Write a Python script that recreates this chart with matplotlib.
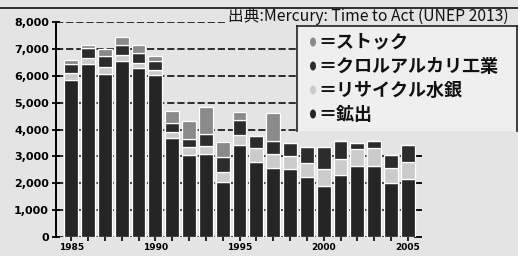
import matplotlib as mpl
import matplotlib.pyplot as plt
from matplotlib.lines import Line2D
from matplotlib.patches import Ellipse, Rectangle

mpl.rcParams.update(
    {
        "font.family": ["DejaVu Sans"],
        "axes.linewidth": 1.4,
    }
)
JP = ["Noto Sans CJK JP", "DejaVu Sans"]

YEARS = list(range(1985, 2006))
# stacked bottom -> top
MINING = [5850, 6450, 6060, 6560, 6300, 6020, 3670, 3050, 3100, 2050, 3420,
          2800, 2560, 2520, 2220, 1900, 2300, 2640, 2640, 2000, 2150]
RECYCLE = [250, 200, 260, 220, 180, 200, 230, 300, 300, 380, 380,
           500, 530, 490, 545, 640, 620, 620, 660, 555, 630]
CHLOR = [350, 400, 420, 380, 350, 330, 330, 300, 450, 560, 550,
         450, 500, 475, 595, 800, 660, 250, 280, 495, 640]
STOCK = [150, 100, 260, 300, 320, 200, 470, 650, 1000, 560, 310,
         0, 1010, 0, 0, 0, 0, 0, 0, 0, 0]

LABELS = ["＝ストック", "＝クロルアルカリ工業", "＝リサイクル水銀", "＝鉱出"]
XTICKS = [1985, 1990, 1995, 2000, 2005]
YTICKS = [0, 1000, 2000, 3000, 4000, 5000, 6000, 7000, 8000]
SOURCE = "出典:Mercury: Time to Act (UNEP 2013)"

C_MINING = "#252525"
C_RECYCLE = "#cbcbcb"
C_CHLOR = "#2c2c2c"
C_STOCK = "#8a8a8a"
BG = "#e4e4e4"

W, H = 518, 256
fig = plt.figure(figsize=(W / 100, H / 100), dpi=100, facecolor=BG)
ax = fig.add_axes([56 / W, 1 - 237 / H, (418 - 56) / W, (237 - 22) / H])
ax.set_facecolor(BG)

bottom = [0] * len(YEARS)
for vals, col in [(MINING, C_MINING), (RECYCLE, C_RECYCLE), (CHLOR, C_CHLOR), (STOCK, C_STOCK)]:
    ax.bar(YEARS, vals, bottom=bottom, width=0.82, color=col, edgecolor="white",
           linewidth=0.9, zorder=3)
    bottom = [b + v for b, v in zip(bottom, vals)]

ax.set_xlim(1984.1, 2005.6)
ax.set_ylim(0, 8000)
ax.set_yticks(YTICKS)
ax.set_yticklabels([f"{v:,}" for v in YTICKS], fontsize=8, fontweight="bold")
ax.set_xticks(YEARS, minor=True)
ax.set_xticks(XTICKS)
ax.set_xticklabels([str(y) for y in XTICKS], fontsize=6.5, fontweight="bold")
ax.tick_params(axis="y", direction="inout", length=6, width=1.3, pad=2, right=True)
ax.tick_params(axis="x", which="both", direction="out", length=3, width=1.2, pad=1)
ax.yaxis.grid(True, linestyle=(0, (4, 1.6)), color="#1e1e1e", linewidth=1.3, zorder=1)
ax.set_axisbelow(True)
for s in ["top", "right", "bottom"]:
    ax.spines[s].set_visible(False)

# legend box
fig.add_artist(Rectangle((297 / W, 1 - 131 / H), (517 - 297) / W, (131 - 26) / H,
                         transform=fig.transFigure, facecolor="#efefef",
                         edgecolor="none", zorder=5))
fig.add_artist(Line2D([297 / W, 297 / W], [1 - 131 / H, 1 - 26 / H], color="#222",
                      lw=1.2, zorder=6))
fig.add_artist(Line2D([297 / W, 517 / W], [1 - 26 / H, 1 - 26 / H], color="#222",
                      lw=1.2, zorder=6))
fig.add_artist(Line2D([517 / W, 517 / W], [1 - 131 / H, 1 - 26 / H], color="#222",
                      lw=1.2, zorder=6))
for i, (lab, col) in enumerate(zip(LABELS, [C_STOCK, C_CHLOR, C_RECYCLE, C_MINING])):
    yc = 1 - (42 + i * 24) / H
    fig.add_artist(Ellipse((313 / W, yc), 6 / W, 9 / H, transform=fig.transFigure,
                           facecolor=col, edgecolor="none", zorder=7))
    fig.text(318 / W, yc, lab, fontsize=13, family=JP, fontweight="bold",
             ha="left", va="center", color="#111", zorder=7)

# top rule and source
fig.text(228 / W, 1 - 16 / H, SOURCE, fontsize=11.3, family=JP, ha="left",
         va="center", color="#111", zorder=8,
         bbox=dict(facecolor=BG, edgecolor="none", pad=0.5))
fig.add_artist(Line2D([0, 1], [1 - 8 / H, 1 - 8 / H], color="#222", lw=1.3, zorder=9))

fig.savefig("out.png", dpi=100, facecolor=BG)
